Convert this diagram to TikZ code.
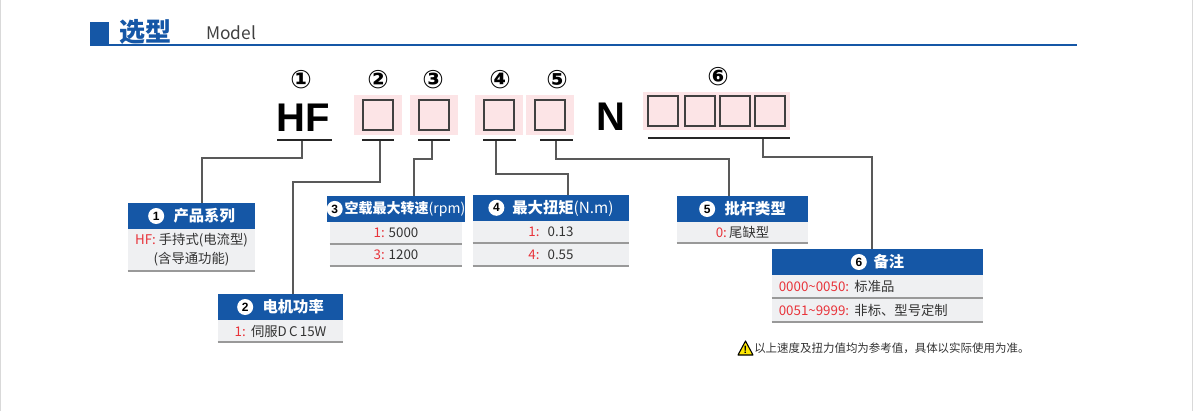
\documentclass[tikz,border=0pt]{standalone}
\usepackage{fontspec}
\setmainfont{Noto Sans CJK SC}
\newfontfamily\dvs{DejaVu Sans}
\newfontfamily\lib{Liberation Sans}
\definecolor{hblue}{HTML}{1557A6}
\definecolor{rowgray}{HTML}{EFF0F2}
\definecolor{pinkbg}{HTML}{FCE4E6}
\definecolor{redtxt}{HTML}{E8333A}
\definecolor{txt}{HTML}{333333}
\newcommand{\hn}[1]{\tikz[baseline=-0.65ex]\node[circle,fill=white,inner sep=0pt,minimum size=12pt,text=black,font=\lib\bfseries\small]{#1};}
\newcommand{\rd}[1]{\textcolor{redtxt}{#1}}
\begin{document}
\begin{tikzpicture}[x=0.75pt,y=-0.75pt,
  hdr/.style={fill=hblue,text=white,inner sep=0pt,font=\fontsize{11.5}{12}\selectfont\bfseries},
  row/.style={fill=rowgray,text=txt,inner sep=0pt,font=\fontsize{10}{14}\selectfont,align=center},
  rowline/.style={draw=black!40,line width=1.2pt},
  conn/.style={draw=black!65,line width=0.9pt},
  uline/.style={draw=black!85,line width=2.2pt},
  pink/.style={fill=pinkbg,draw=none,inner sep=0pt},
  sq/.style={draw=black!75,line width=0.9pt,fill=none,inner sep=0pt,minimum size=22.5pt},
  cnum/.style={font=\dvs\fontsize{19}{19}\selectfont\bfseries,inner sep=0pt}]
\useasboundingbox (0,0) rectangle (1193,411);
\draw[black!15,line width=1pt] (0.5,0)--(0.5,411) (1192.5,0)--(1192.5,411);
% title
\fill[hblue] (90,22) rectangle (109,45);
\node[anchor=west,text=hblue,font=\fontsize{19.5}{20}\selectfont\bfseries,inner sep=0pt] (ttl) at (119,32) {选型};
\node[anchor=west,text=black!75,font=\fontsize{13}{13}\selectfont,inner sep=0pt] (mdl) at (206,33) {Model};
\draw[hblue,line width=1.6pt] (90,45)--(1077,45);
% code line
\node[cnum] (c1) at (301,80) {①};
\node[cnum] (c2) at (378,80) {②};
\node[cnum] (c3) at (433,80) {③};
\node[cnum] (c4) at (500,80) {④};
\node[cnum] (c5) at (557,80) {⑤};
\node[cnum] (c6) at (718,77) {⑥};
\node[font=\lib\bfseries\fontsize{30}{30}\selectfont,inner sep=0pt] (hf) at (303,118) {HF};
\node[font=\lib\bfseries\fontsize{30}{30}\selectfont,inner sep=0pt] (nn) at (611,117) {N};
\foreach \n/\x in {2/378,3/434,4/499,5/550}{
  \node[pink,minimum width=36pt,minimum height=30pt] (p\n) at (\x,115) {};
  \node[sq] (s\n) at (\x,115) {};
}
\node[pink,minimum width=110pt,minimum height=28.5pt] (p6) at (716.5,111) {};
\foreach \i/\x in {a/663,b/700,c/735,d/770}{\node[sq] (s6\i) at (\x,111) {};}
% underlines
\draw[uline] (277,140)--(332,140);
\draw[uline] (362,140)--(394,140);
\draw[uline] (418,140)--(450,140);
\draw[uline] (483,140)--(516,140);
\draw[uline] (540,140)--(573,140);
\draw[uline] (648,138)--(790,138);
% boxes
\node[hdr,minimum width=95.25pt,minimum height=19.5pt] (h1) at (191.5,216) {\hn{1}\hspace{7pt}产品系列};
\node[row,minimum width=95.25pt,minimum height=31.5pt] (r1) at (191.5,250) {\rd{HF:} 手持式(电流型)\\(含导通功能)};
\node[hdr,minimum width=93.75pt,minimum height=19.5pt] (h2) at (280.5,307) {\hn{2}\hspace{7pt}电机功率};
\node[row,minimum width=93.75pt,minimum height=16.5pt] (r2) at (280.5,331) {\rd{1:}\hspace{4pt}伺服D\,C\,15W};
\node[hdr,minimum width=99pt,minimum height=19.5pt,font=\fontsize{10.5}{12}\selectfont\bfseries] (h3) at (396,209) {\hn{3}\hspace{1.5pt}空载最大转速\textmd{(rpm)}};
\node[row,minimum width=99pt,minimum height=16.5pt] (r3a) at (396,233) {\rd{1:} 5000};
\node[row,minimum width=99pt,minimum height=16.5pt] (r3b) at (396,255) {\rd{3:} 1200};
\node[hdr,minimum width=117pt,minimum height=19.5pt] (h4) at (551,208) {\hn{4}\hspace{6pt}最大扭矩\textmd{(N.m)}};
\node[row,minimum width=117pt,minimum height=16.5pt] (r4a) at (551,232) {\rd{1:}\hspace{6pt}0.13};
\node[row,minimum width=117pt,minimum height=16.5pt] (r4b) at (551,254.5) {\rd{4:}\hspace{6pt}0.55};
\node[hdr,minimum width=98.25pt,minimum height=19.5pt] (h5) at (742.5,209) {\hn{5}\hspace{7pt}批杆类型};
\node[row,minimum width=98.25pt,minimum height=15.75pt] (r5) at (742.5,232.5) {\rd{0:}\,尾缺型};
\node[hdr,minimum width=158.25pt,minimum height=19.5pt] (h6) at (877.5,262) {\hn{6}\hspace{5pt}备注};
\node[row,minimum width=158.25pt,minimum height=17.25pt,text width=148pt,align=left] (r6a) at (877.5,286.5) {\rd{0000\textasciitilde 0050:}\hspace{4pt}标准品};
\node[row,minimum width=158.25pt,minimum height=17.25pt,text width=148pt,align=left] (r6b) at (877.5,310.5) {\rd{0051\textasciitilde 9999:}\hspace{4pt}非标、型号定制};
\foreach \r in {r1,r2,r3a,r3b,r4a,r4b,r5,r6a,r6b}{\draw[rowline] (\r.south west)--(\r.south east);}
% connectors
\draw[conn] (302,141)--(302,158)--(202,158)--(202,203);
\draw[conn] (380,141)--(380,182)--(293,182)--(293,294);
\draw[conn] (432,141)--(432,159)--(414,159)--(414,196);
\draw[conn] (496,141)--(496,174)--(568,174)--(568,195);
\draw[conn] (556,141)--(556,159)--(729,159)--(729,196);
\draw[conn] (763,139)--(763,157)--(872,157)--(872,249);
% note
\filldraw[fill=yellow!90!orange,draw=black,line width=0.8pt,line join=round] (738,355)--(745.5,341)--(753,355)--cycle;
\node[font=\lib\bfseries\fontsize{8}{8}\selectfont,inner sep=0pt] (ex) at (745.5,350) {!};
\node[anchor=west,inner sep=0pt,text=txt,font=\fontsize{8.6}{9}\selectfont] (note) at (754,348) {以上速度及扭力值均为参考值，具体以实际使用为准。};
\end{tikzpicture}
\end{document}
